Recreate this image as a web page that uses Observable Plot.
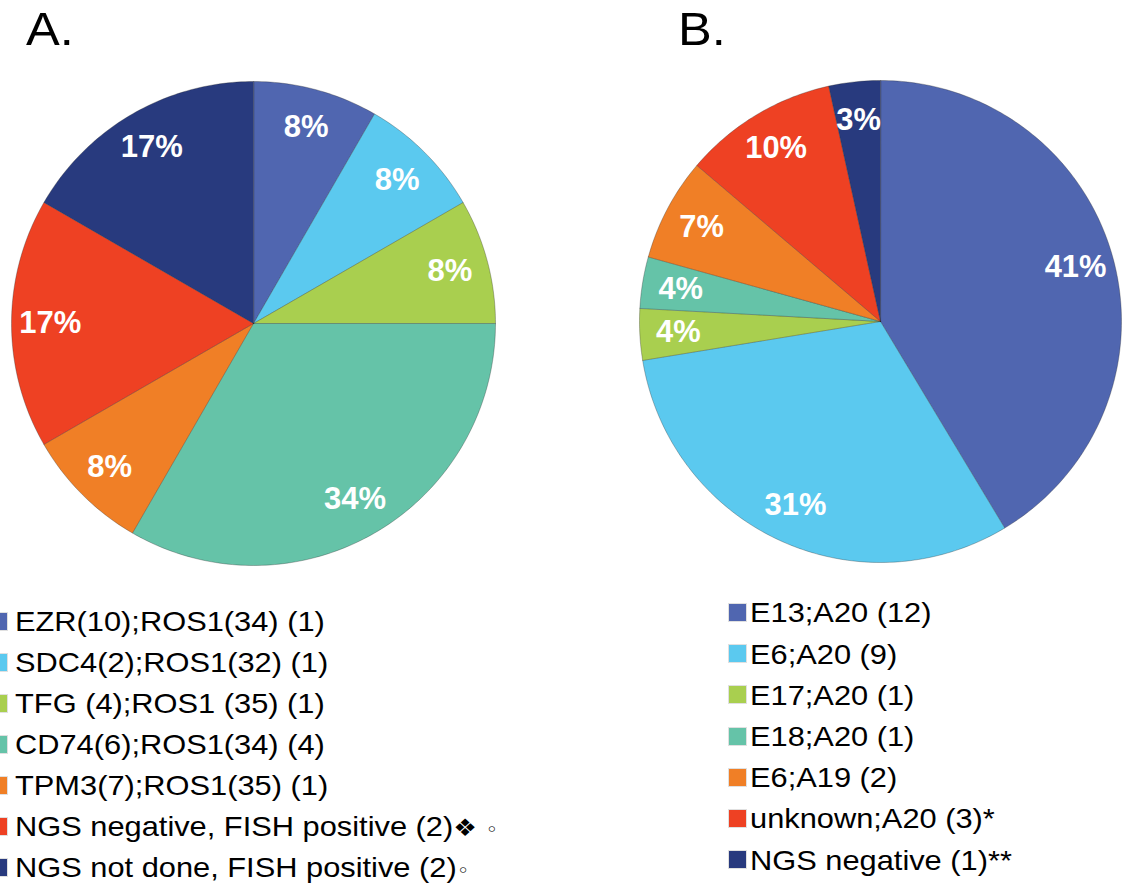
<!DOCTYPE html>
<html><head><meta charset="utf-8">
<script src="https://cdn.jsdelivr.net/npm/d3@7"></script>
<script src="https://cdn.jsdelivr.net/npm/@observablehq/plot@0.6"></script>
<style>
html,body{margin:0;padding:0;background:#fff;overflow:hidden}
#root{position:relative;width:1123px;height:893px;font-family:"Liberation Sans",Arial,Helvetica,sans-serif;overflow:hidden}
.title{position:absolute;font-size:46px;line-height:46px;transform:scaleX(1.1);transform-origin:left top;color:#000}
.leg{position:absolute;font-size:28px;line-height:28px;white-space:nowrap;transform:scaleX(1.1);transform-origin:left top;color:#000}
.sym{font-family:"DejaVu Sans",sans-serif;font-size:24px}
.sym2{font-family:"DejaVu Sans",sans-serif;font-size:19px}
.sw{position:absolute;width:17px;height:17px}
.plot{position:absolute}
</style></head>
<body><div id="root"></div>
<script>
// ---- Data: panel A ----
const catsA = ["EZR(10);ROS1(34) (1)", "SDC4(2);ROS1(32) (1)", "TFG (4);ROS1 (35) (1)", "CD74(6);ROS1(34) (4)", "TPM3(7);ROS1(35) (1)", "NGS negative, FISH positive (2)❖◦", "NGS not done, FISH positive (2)◦"];
const valuesA = [1, 1, 1, 4, 1, 2, 2];
const pctA = ["8%", "8%", "8%", "34%", "8%", "17%", "17%"];
const colorsA = ["#5066B0", "#5BC9EF", "#A9CF4F", "#65C3A8", "#F07F26", "#EE4123", "#283A7E"];

// ---- Data: panel B ----
const catsB = ["E13;A20 (12)", "E6;A20 (9)", "E17;A20 (1)", "E18;A20 (1)", "E6;A19 (2)", "unknown;A20 (3)*", "NGS negative (1)**"];
const valuesB = [12, 9, 1, 1, 2, 3, 1];
const pctB = ["41%", "31%", "4%", "4%", "7%", "10%", "3%"];
const colorsB = ["#5066B0", "#5BC9EF", "#A9CF4F", "#65C3A8", "#F07F26", "#EE4123", "#283A7E"];

const root = document.getElementById("root");

function piePlot(cats, values, pcts, colors) {
  const arcs = d3.pie().sort(null).value(d => d)(values);
  const poly = [];
  arcs.forEach((a, i) => {
    poly.push({cat: cats[i], x: 0, y: 0});
    const n = Math.max(2, Math.ceil((a.endAngle - a.startAngle) / (Math.PI / 180)));
    for (let k = 0; k <= n; k++) {
      const t = a.startAngle + (a.endAngle - a.startAngle) * k / n;
      poly.push({cat: cats[i], x: Math.sin(t), y: Math.cos(t)});
    }
  });
  const labels = arcs.map((a, i) => {
    const m = (a.startAngle + a.endAngle) / 2;
    return {label: pcts[i], x: 0.84 * Math.sin(m), y: 0.84 * Math.cos(m)};
  });
  return Plot.plot({
    width: 488, height: 488, margin: 2,
    x: {domain: [-1, 1], axis: null},
    y: {domain: [-1, 1], axis: null},
    color: {domain: cats, range: colors},
    style: {background: "transparent", overflow: "visible", fontFamily: "'Liberation Sans', Arial, sans-serif"},
    marks: [
      Plot.line(poly, {x: "x", y: "y", z: "cat", fill: "cat", stroke: "#202020", strokeOpacity: 0.3, strokeWidth: 1, curve: "linear-closed"}),
      Plot.text(labels, {x: "x", y: "y", text: "label", fill: "white", fontSize: 31, fontWeight: "bold"})
    ]
  });
}

function place(el, left, top) {
  const d = document.createElement("div");
  d.className = "plot";
  d.style.left = left + "px";
  d.style.top = top + "px";
  d.appendChild(el);
  root.appendChild(d);
}

place(piePlot(catsA, valuesA, pctA, colorsA), 9, 79);
place(piePlot(catsB, valuesB, pctB, colorsB), 637, 78);

function title(txt, left, top) {
  const t = document.createElement("div");
  t.className = "title";
  t.textContent = txt;
  t.style.left = left + "px";
  t.style.top = top + "px";
  root.appendChild(t);
}
title("A.", 26, 6);
title("B.", 678, 6);

function legend(cats, colors, textLeft, swLeft, firstBaseline, step) {
  cats.forEach((c, i) => {
    const base = firstBaseline + step * i;
    const sw = document.createElement("div");
    sw.className = "sw";
    sw.style.left = swLeft + "px";
    sw.style.top = (base - 19) + "px";
    sw.style.background = colors[i];
    sw.style.outline = "1px solid rgba(0,0,0,0.12)";
    root.appendChild(sw);
    const t = document.createElement("div");
    t.className = "leg";
    t.style.left = textLeft + "px";
    t.style.top = (base - 23.7) + "px";
    t.innerHTML = c.replace(/❖/g, '<span class="sym">❖</span> ').replace(/◦/g, '<span class="sym2">◦</span>');
    root.appendChild(t);
  });
}
legend(catsA, colorsA, 15, -10, 632, 41);
legend(catsB, colorsB, 750, 729, 623, 41.2);
</script>
</body></html>
